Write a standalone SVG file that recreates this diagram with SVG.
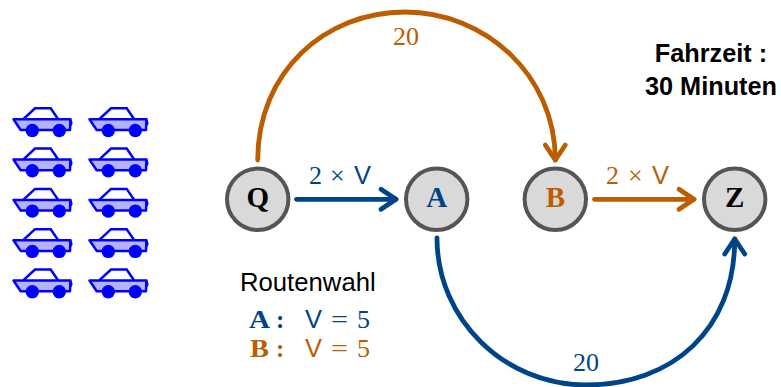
<svg xmlns="http://www.w3.org/2000/svg" width="781" height="387" viewBox="0 0 781 387">
<style>
.node{fill:#d9d9d9;stroke:#555;stroke-width:4}
.nl{font-family:"Liberation Serif",serif;font-weight:bold;font-size:29px;text-anchor:middle}
.c{fill:none;stroke-width:4.800;stroke-linecap:round}
.blue{stroke:#004488}
.or{stroke:#bb5d00}
.tb{fill:#004488}.to{fill:#bb5d00}
.m{font-family:"Liberation Serif",serif;font-size:26px}
.e{font-family:"Liberation Serif",serif;font-size:24px}
.lb{font-family:"Liberation Serif",serif;font-weight:bold;font-size:25px}
.s{font-family:"Liberation Sans",sans-serif;font-size:25.500px}
.h{font-family:"Liberation Sans",sans-serif;font-weight:bold;font-size:25.300px;text-anchor:middle}
</style>
<defs>
<marker id="ab" markerUnits="userSpaceOnUse" markerWidth="24" markerHeight="30" refX="20" refY="15" orient="auto" overflow="visible">
<path d="M5 5 L20 15 L5 25" fill="none" stroke="#004488" stroke-width="4.800" stroke-linecap="round" stroke-linejoin="round"/>
</marker>
<marker id="ao" markerUnits="userSpaceOnUse" markerWidth="24" markerHeight="30" refX="20" refY="15" orient="auto" overflow="visible">
<path d="M5 5 L20 15 L5 25" fill="none" stroke="#bb5d00" stroke-width="4.800" stroke-linecap="round" stroke-linejoin="round"/>
</marker>
<g id="car">
<path d="M13.500 119.300 L70.500 119.300 L70 130 L20.700 130 Z" fill="#b3b3ff" stroke="#0000ff" stroke-width="2.500" stroke-linejoin="round"/>
<path d="M23.500 119 L35 108.300 L50.700 108.300 L58 119" fill="none" stroke="#0000ff" stroke-width="2.500"/>
<circle cx="32.300" cy="130.500" r="6.700" fill="#0000ff"/>
<circle cx="59.300" cy="130.500" r="6.700" fill="#0000ff"/>
<path d="M69.500 119 A3.500 4 0 0 1 70 126.500 Z" fill="#0000ff" stroke="#0000ff"/>
</g>
</defs>
<g id="cars">
<use href="#car"/><use href="#car" x="76"/>
<use href="#car" y="40.300"/><use href="#car" x="76" y="40.300"/>
<use href="#car" y="80.600"/><use href="#car" x="76" y="80.600"/>
<use href="#car" y="120.900"/><use href="#car" x="76" y="120.900"/>
<use href="#car" y="161.200"/><use href="#car" x="76" y="161.200"/>
</g>
<g id="connectors">
<path class="c blue" d="M296.500 199.300 H396" marker-end="url(#ab)"/>
<path class="c or" d="M594.500 199.300 H694" marker-end="url(#ao)"/>
<path class="c or" d="M257.700 160 C257.700 72 325 12 405 12 C485 12 555.300 75 555.300 160" marker-end="url(#ao)"/>
<path class="c blue" d="M437 238 C437 320 505 385 586 385 C672 385 735 330 734.700 239" marker-end="url(#ab)"/>
</g>
<g id="node-Q"><circle class="node" cx="257.700" cy="199.300" r="30.700"/><text class="nl" x="257.700" y="207">Q</text></g>
<g id="node-A"><circle class="node" cx="436.700" cy="199.300" r="30.700"/><text class="nl tb" x="436.700" y="207">A</text></g>
<g id="node-B"><circle class="node" cx="555.300" cy="199.300" r="30.700"/><text class="nl to" x="555.300" y="207">B</text></g>
<g id="node-Z"><circle class="node" cx="734.700" cy="199.300" r="30.700"/><text class="nl" x="734.700" y="207">Z</text></g>
<g id="labels">
<text class="m to" x="393" y="45">20</text>
<text class="m tb" x="573" y="371">20</text>
<text class="m tb" x="309" y="184">2</text><text class="m tb" x="330" y="184">×</text><text class="s tb" x="354" y="184">V</text>
<text class="m to" x="606" y="184">2</text><text class="m to" x="628" y="184">×</text><text class="s to" x="652" y="184">V</text>
<text class="h" x="711" y="61.700">Fahrzeit :</text>
<text class="h" x="711" y="95">30 Minuten</text>
<text x="240" y="290.700" font-family="Liberation Sans,sans-serif" font-size="25.700px">Routenwahl</text>
<text class="lb tb" x="249" y="327.700" textLength="21" lengthAdjust="spacingAndGlyphs">A</text><text class="lb tb" x="276" y="327.700">:</text><text class="s tb" x="305" y="327.700">V</text><text class="e tb" x="331" y="327" textLength="17" lengthAdjust="spacingAndGlyphs">=</text><text class="m tb" x="357" y="327.700">5</text>
<text class="lb to" x="250" y="356.700" textLength="19" lengthAdjust="spacingAndGlyphs">B</text><text class="lb to" x="276" y="356.700">:</text><text class="s to" x="305" y="356.700">V</text><text class="e to" x="331" y="356" textLength="17" lengthAdjust="spacingAndGlyphs">=</text><text class="m to" x="357" y="356.700">5</text>
</g>
</svg>
